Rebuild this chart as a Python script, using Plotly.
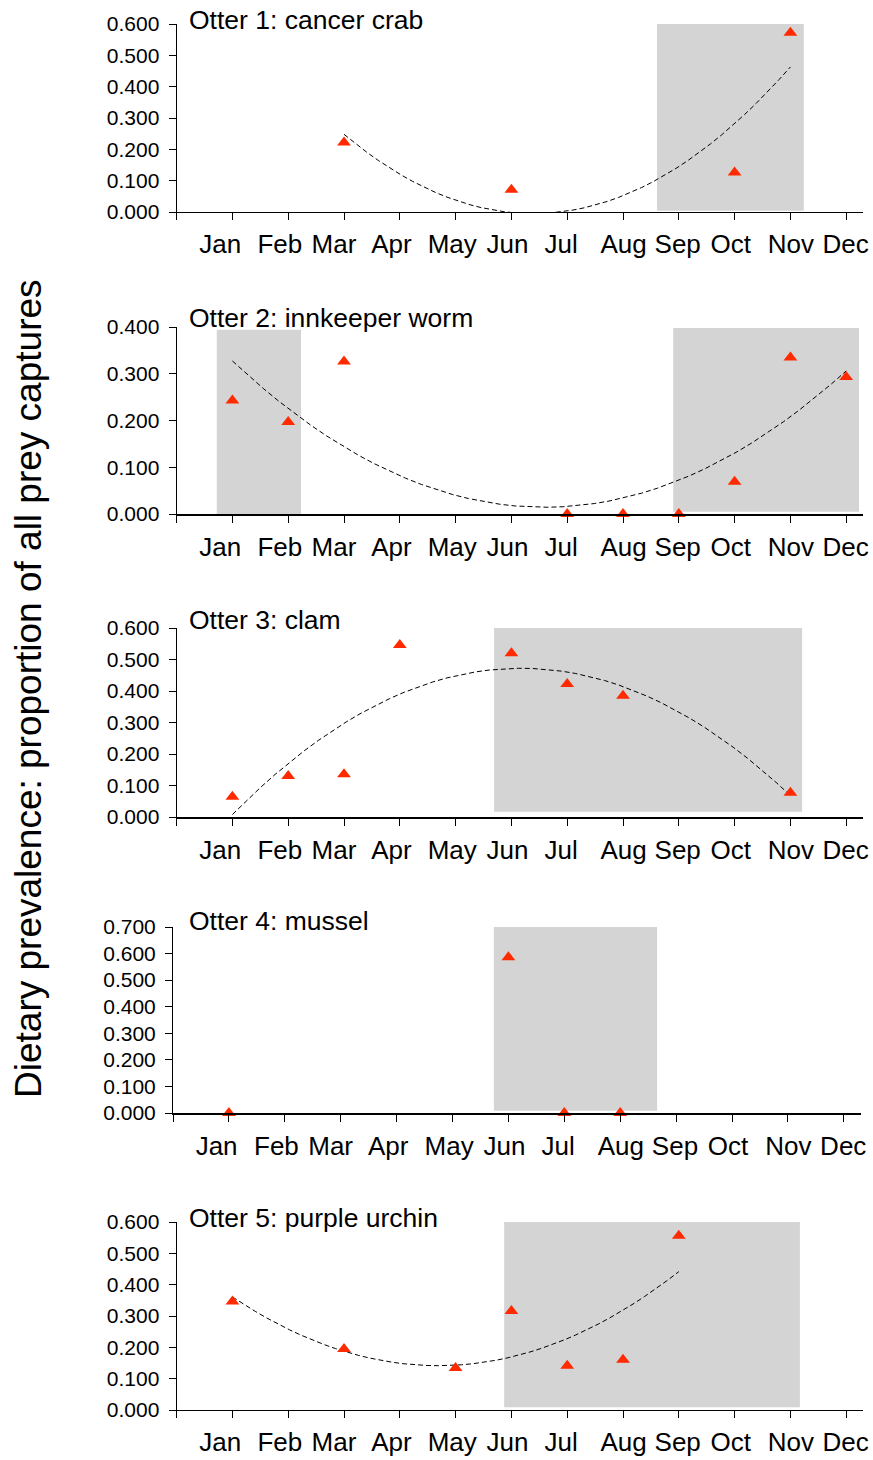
import numpy as np
import plotly.graph_objects as go

# Month labels and where they sit along the month axis
months = ["Jan", "Feb", "Mar", "Apr", "May", "Jun", "Jul", "Aug", "Sep", "Oct", "Nov", "Dec"]
month_label_pos = [0.78, 1.85, 2.82, 3.85, 4.94, 5.93, 6.89, 8.01, 8.98, 9.93, 11.01, 11.99]
month_ticks = list(range(13))

# Otter 1: cancer crab
crab_month = [3, 6, 10, 11]
crab_value = [0.222, 0.071, 0.126, 0.572]

# Otter 2: innkeeper worm
worm_month = [1, 2, 3, 7, 8, 9, 10, 11, 12]
worm_value = [0.243, 0.197, 0.326, 0.0, 0.0, 0.0, 0.069, 0.335, 0.293]

# Otter 3: clam
clam_month = [1, 2, 3, 4, 6, 7, 8, 11]
clam_value = [0.064, 0.130, 0.136, 0.546, 0.520, 0.422, 0.385, 0.077]

# Otter 4: mussel
mussel_month = [1, 6, 7, 8]
mussel_value = [0.0, 0.586, 0.0, 0.0]

# Otter 5: purple urchin
urchin_month = [1, 3, 5, 6, 7, 8, 9]
urchin_value = [0.346, 0.195, 0.134, 0.316, 0.141, 0.160, 0.556]

# Shaded periods per otter: (month start, month end, low, high)
crab_shade = [(8.61, 11.24, 0.004, 0.600)]
worm_shade = [(0.72, 2.23, 0.0, 0.394), (8.90, 12.23, 0.005, 0.398)]
clam_shade = [(5.69, 11.21, 0.017, 0.610)]
mussel_shade = [(5.74, 8.66, 0.008, 0.707)]
urchin_shade = [(5.87, 11.17, 0.009, 0.606)]

panels = [
    dict(title="Otter 1: cancer crab", x=crab_month, y=crab_value, shade=crab_shade,
         ymax=0.6, trend=True),
    dict(title="Otter 2: innkeeper worm", x=worm_month, y=worm_value, shade=worm_shade,
         ymax=0.4, trend=True),
    dict(title="Otter 3: clam", x=clam_month, y=clam_value, shade=clam_shade,
         ymax=0.6, trend=True),
    dict(title="Otter 4: mussel", x=mussel_month, y=mussel_value, shade=mussel_shade,
         ymax=0.7, trend=False),
    dict(title="Otter 5: purple urchin", x=urchin_month, y=urchin_value, shade=urchin_shade,
         ymax=0.6, trend=True),
]

# Page geometry (pixels)
W, H = 873, 1460
plot_top = [24, 327, 628, 927, 1222]
plot_bottom = [212, 514, 817, 1113, 1410]
plot_left = [176.6, 176.6, 176.6, 173.0, 176.6]
px_per_month = [55.8, 55.8, 55.8, 55.9, 55.8]
title_y = [20, 318, 620, 921, 1218]
x_max = 12.3
x_axis_width = [1, 2, 2, 1.5, 1]

FONT = "Liberation Sans, Arial, sans-serif"
RED = "#FF2A00"
GREY = "#D4D4D4"

fig = go.Figure()
layout = dict(
    width=W, height=H,
    margin=dict(l=0, r=0, t=0, b=0, pad=0, autoexpand=False),
    paper_bgcolor="white", plot_bgcolor="white",
    showlegend=False,
    font=dict(family=FONT, color="black"),
    shapes=[], annotations=[],
)

for i, p in enumerate(panels):
    n = i + 1
    xa = "x" if n == 1 else f"x{n}"
    ya = "y" if n == 1 else f"y{n}"
    xkey = "xaxis" if n == 1 else f"xaxis{n}"
    ykey = "yaxis" if n == 1 else f"yaxis{n}"

    x0 = plot_left[i] / W
    x1 = (plot_left[i] + x_max * px_per_month[i]) / W
    d0 = 1 - plot_bottom[i] / H
    d1 = 1 - plot_top[i] / H

    layout[xkey] = dict(
        domain=[x0, x1], range=[0, x_max], anchor=ya, automargin=False,
        showgrid=False, zeroline=False,
        showline=True, linecolor="black", linewidth=x_axis_width[i],
        tickmode="array", tickvals=month_label_pos, ticktext=months,
        ticks="", ticklabelstandoff=9,
        tickfont=dict(family=FONT, size=26, color="black"),
        minor=dict(tickmode="array", tickvals=month_ticks, ticks="outside",
                   ticklen=7, tickwidth=1, tickcolor="black", showgrid=False),
        fixedrange=True,
    )
    layout[ykey] = dict(
        domain=[d0, d1], range=[0, p["ymax"]], anchor=xa, automargin=False,
        showgrid=False, zeroline=False,
        showline=True, linecolor="black", linewidth=1,
        tickmode="linear", tick0=0, dtick=0.1, tickformat=".3f",
        ticks="outside", ticklen=7, tickwidth=1, tickcolor="black",
        ticklabelstandoff=5,
        tickfont=dict(family=FONT, size=21, color="black"),
        fixedrange=True,
    )

    for (sx0, sx1, sy0, sy1) in p["shade"]:
        layout["shapes"].append(dict(
            type="rect", xref=xa, yref=ya, x0=sx0, x1=sx1, y0=sy0, y1=sy1,
            fillcolor=GREY, line=dict(width=0), layer="below",
        ))

    if p["trend"]:
        coef = np.polyfit(p["x"], p["y"], 2)
        xs = np.linspace(min(p["x"]), max(p["x"]), 40)
        fig.add_trace(go.Scatter(
            x=xs, y=np.polyval(coef, xs), mode="lines",
            line=dict(color="black", width=1, dash="5px,3px"),
            xaxis=xa, yaxis=ya, hoverinfo="skip", cliponaxis=False,
        ))

    fig.add_trace(go.Scatter(
        x=p["x"], y=p["y"], mode="markers",
        marker=dict(symbol="triangle-up", size=12, color=RED, line=dict(width=0)),
        xaxis=xa, yaxis=ya, cliponaxis=False,
    ))

    layout["annotations"].append(dict(
        text=p["title"], xref="paper", yref="paper",
        x=187 / W, y=1 - title_y[i] / H, xanchor="left", yanchor="middle",
        showarrow=False, font=dict(family=FONT, size=26.5, color="black"),
    ))

layout["annotations"].append(dict(
    text="Dietary prevalence: proportion of all prey captures",
    xref="paper", yref="paper", x=28 / W, y=1 - 689 / H,
    xanchor="center", yanchor="middle", textangle=-90, showarrow=False,
    font=dict(family=FONT, size=37, color="black"),
))

fig.update_layout(**layout)
fig.write_html("out.html")
